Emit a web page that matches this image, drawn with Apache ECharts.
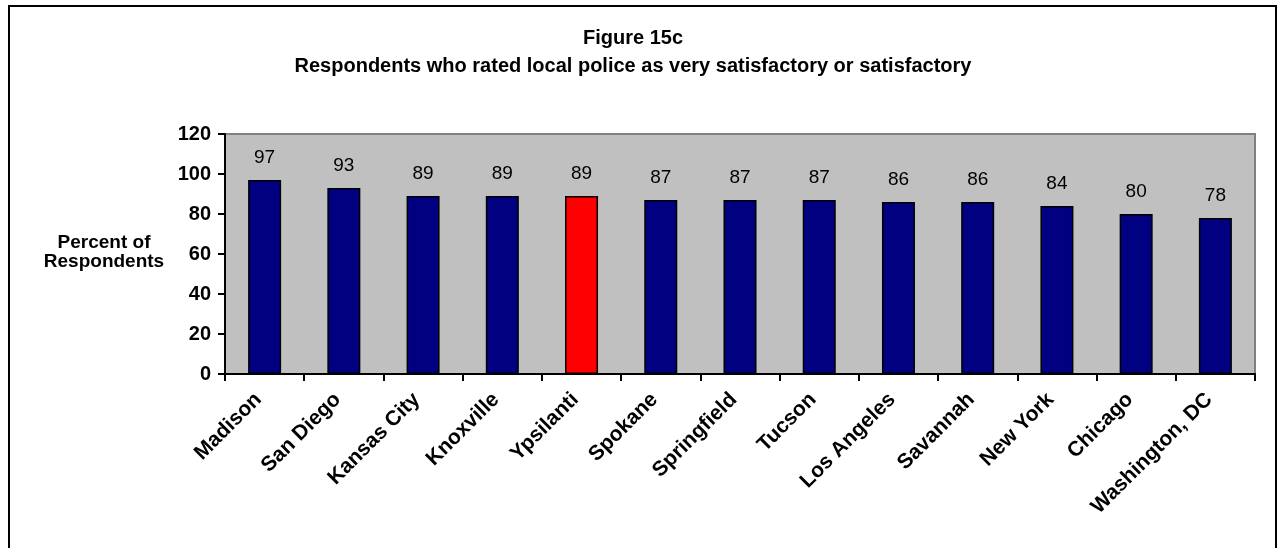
<!DOCTYPE html>
<html>
<head>
<meta charset="utf-8">
<title>Figure 15c</title>
<script src="https://cdn.jsdelivr.net/npm/echarts@6/dist/echarts.min.js"></script>
<style>
  html, body { margin: 0; padding: 0; background: #ffffff; }
  #chart { width: 1280px; height: 548px; }
</style>
</head>
<body>
<div id="chart"></div>
<script>
// Cities ordered by share of satisfied respondents
const cities = ['Madison', 'San Diego', 'Kansas City', 'Knoxville', 'Ypsilanti', 'Spokane',
  'Springfield', 'Tucson', 'Los Angeles', 'Savannah', 'New York', 'Chicago', 'Washington, DC'];
const percentSatisfied = [97, 93, 89, 89, 89, 87, 87, 87, 86, 86, 84, 80, 78];
const highlightCity = 'Ypsilanti';
const yTicks = [0, 20, 40, 60, 80, 100, 120];

const FONT = '"Liberation Sans", Arial, Helvetica, sans-serif';

const chart = echarts.init(document.getElementById('chart'), null, { renderer: 'canvas' });

const barData = cities.map((c, i) => ({
  value: percentSatisfied[i],
  itemStyle: { color: c === highlightCity ? '#FF0000' : '#000080' }
}));

chart.setOption({
  animation: false,
  backgroundColor: '#ffffff',
  title: {
    text: 'Figure 15c\nRespondents who rated local police as very satisfactory or satisfactory',
    left: 628,
    top: 19,
    textAlign: 'center',
    textStyle: {
      fontFamily: FONT,
      fontSize: 20,
      fontWeight: 'bold',
      color: '#000000',
      lineHeight: 28
    }
  },
  graphic: [
    {
      type: 'rect',
      shape: { x: 9, y: 6, width: 1267, height: 570 },
      style: { fill: 'none', stroke: '#000000', lineWidth: 2 },
      silent: true,
      z: 100
    },
    {
      type: 'text',
      x: 104,
      y: 252,
      style: {
        text: 'Percent of\nRespondents',
        fontFamily: FONT,
        fontSize: 19,
        fontWeight: 'bold',
        fill: '#000000',
        align: 'center',
        verticalAlign: 'middle',
        lineHeight: 19
      }
    }
  ],
  grid: {
    left: 225,
    right: 25,
    top: 134,
    bottom: 174,
    show: true,
    backgroundColor: '#C0C0C0',
    borderColor: '#808080',
    borderWidth: 2
  },
  xAxis: {
    type: 'category',
    data: cities,
    boundaryGap: true,
    axisLine: { show: true, lineStyle: { color: '#000000', width: 2 } },
    axisTick: { show: true, length: 7, alignWithLabel: false, lineStyle: { color: '#000000', width: 2 } },
    axisLabel: {
      rotate: 45,
      interval: 0,
      margin: 16,
      padding: [0, 9, 0, 0],
      fontFamily: FONT,
      fontSize: 21,
      fontWeight: 'bold',
      color: '#000000'
    },
    splitLine: { show: false }
  },
  yAxis: {
    type: 'value',
    min: yTicks[0],
    max: yTicks[yTicks.length - 1],
    interval: yTicks[1] - yTicks[0],
    axisLine: { show: true, lineStyle: { color: '#000000', width: 2 } },
    axisTick: { show: true, length: 7, lineStyle: { color: '#000000', width: 2 } },
    axisLabel: {
      margin: 14,
      fontFamily: FONT,
      fontSize: 20,
      fontWeight: 'bold',
      color: '#000000'
    },
    splitLine: { show: false }
  },
  series: [
    {
      type: 'bar',
      data: barData,
      barWidth: 33,
      itemStyle: { borderColor: '#000000', borderWidth: 1.5 },
      label: {
        show: true,
        position: 'top',
        distance: 13,
        fontFamily: FONT,
        fontSize: 19,
        color: '#000000'
      }
    }
  ]
});
</script>
</body>
</html>
